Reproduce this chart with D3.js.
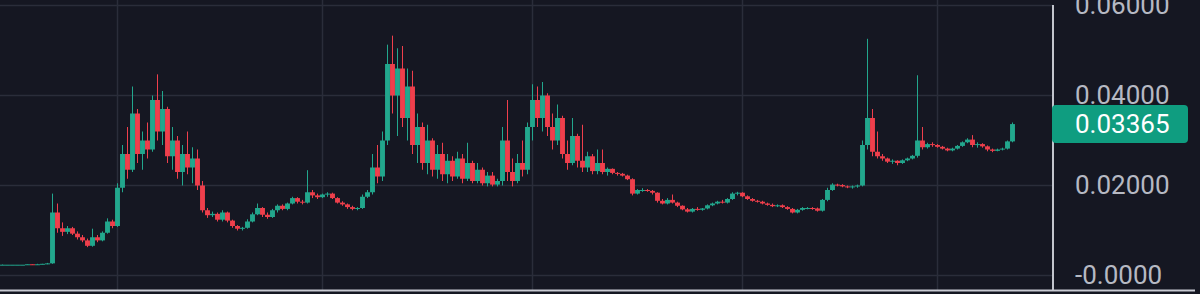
<!DOCTYPE html>
<html>
<head>
<meta charset="utf-8">
<script src="https://cdn.jsdelivr.net/npm/d3@7"></script>
<style>
  html, body { margin: 0; padding: 0; background: #151722; overflow: hidden; }
  svg { display: block; }
  .tick text { font-family: Roboto, "Noto Sans", sans-serif; }
</style>
</head>
<body>
<div id="chart"></div>
<script>
// candle data (one candle ~ 5px)
var opens = [
  .0024,.0024,.0024,.0024,.0024,.0024,.0025,.0024,.0025,.0026,
  .0027,.0140,.0105,.0097,.0105,.0093,.0085,.0078,.0066,.0085,
  .0078,.0095,.0120,.0110,.0195,.0270,.0235,.0360,.0270,.0300,
  .0280,.0390,.0320,.0370,.0265,.0300,.0230,.0270,.0240,.0260,
  .0200,.0145,.0134,.0137,.0124,.0140,.0122,.0110,.0104,.0106,
  .0120,.0136,.0150,.0135,.0130,.0145,.0155,.0148,.0160,.0172,
  .0164,.0162,.0185,.0178,.0174,.0180,.0182,.0172,.0162,.0158,
  .0152,.0148,.0150,.0175,.0185,.0240,.0220,.0300,.0470,.0400,
  .0460,.0350,.0420,.0290,.0330,.0250,.0300,.0235,.0270,.0225,
  .0255,.0220,.0260,.0215,.0250,.0210,.0235,.0205,.0222,.0202,
  .0210,.0300,.0230,.0210,.0250,.0235,.0330,.0390,.0350,.0400,
  .0330,.0300,.0350,.0270,.0250,.0310,.0255,.0240,.0265,.0232,
  .0250,.0230,.0237,.0228,.0226,.0222,.0214,.0182,.0190,.0190,
  .0188,.0184,.0166,.0160,.0168,.0162,.0155,.0147,.0142,.0148,
  .0146,.0149,.0156,.0160,.0164,.0162,.0170,.0182,.0184,.0176,
  .0170,.0166,.0164,.0160,.0157,.0154,.0156,.0152,.0148,.0140,
  .0146,.0150,.0150,.0149,.0144,.0168,.0190,.0202,.0201,.0198,
  .0196,.0198,.0200,.0290,.0350,.0275,.0265,.0260,.0253,.0255,
  .0250,.0256,.0260,.0266,.0300,.0285,.0292,.0290,.0286,.0282,
  .0278,.0282,.0288,.0296,.0302,.0290,.0292,.0287,.0280,.0277,
  .0280,.0282,.0298
];
var highs = [
  .0025,.0024,.0024,.0024,.0024,.0025,.0025,.0026,.0026,.0028,
  .0182,.0160,.0118,.0110,.0108,.0098,.0090,.0082,.0104,.0090,
  .0098,.0127,.0124,.0205,.0290,.0330,.0420,.0370,.0320,.0340,
  .0400,.0447,.0410,.0375,.0330,.0310,.0290,.0320,.0285,.0280,
  .0210,.0150,.0142,.0140,.0145,.0142,.0124,.0112,.0108,.0125,
  .0140,.0160,.0152,.0140,.0148,.0158,.0158,.0162,.0175,.0174,
  .0168,.0234,.0190,.0182,.0182,.0185,.0184,.0174,.0165,.0160,
  .0155,.0152,.0180,.0190,.0270,.0290,.0320,.0513,.0533,.0505,
  .0510,.0460,.0455,.0360,.0340,.0335,.0305,.0290,.0295,.0270,
  .0265,.0275,.0270,.0295,.0255,.0250,.0240,.0230,.0230,.0215,
  .0330,.0390,.0260,.0270,.0300,.0340,.0425,.0420,.0430,.0405,
  .0360,.0380,.0355,.0300,.0350,.0315,.0335,.0275,.0270,.0280,
  .0280,.0240,.0238,.0230,.0228,.0224,.0216,.0192,.0194,.0192,
  .0190,.0185,.0170,.0172,.0180,.0164,.0156,.0150,.0150,.0152,
  .0150,.0158,.0162,.0166,.0168,.0172,.0185,.0186,.0185,.0178,
  .0172,.0168,.0166,.0162,.0160,.0158,.0158,.0154,.0150,.0148,
  .0152,.0152,.0152,.0151,.0170,.0195,.0205,.0204,.0203,.0200,
  .0200,.0202,.0300,.0526,.0370,.0320,.0270,.0262,.0258,.0256,
  .0258,.0262,.0268,.0445,.0330,.0295,.0296,.0292,.0288,.0284,
  .0284,.0290,.0298,.0305,.0312,.0296,.0294,.0289,.0282,.0282,
  .0284,.0300,.0340
];
var lows = [
  .0024,.0024,.0024,.0024,.0024,.0024,.0024,.0024,.0025,.0025,
  .0026,.0095,.0088,.0092,.0090,.0080,.0074,.0063,.0064,.0074,
  .0076,.0093,.0105,.0108,.0185,.0215,.0230,.0250,.0235,.0260,
  .0275,.0300,.0290,.0250,.0235,.0215,.0200,.0225,.0205,.0190,
  .0140,.0128,.0130,.0120,.0120,.0118,.0106,.0100,.0100,.0104,
  .0118,.0134,.0130,.0126,.0128,.0140,.0145,.0145,.0158,.0160,
  .0158,.0160,.0172,.0170,.0172,.0175,.0170,.0160,.0155,.0148,
  .0145,.0145,.0148,.0172,.0180,.0205,.0210,.0290,.0360,.0310,
  .0330,.0300,.0270,.0250,.0235,.0225,.0220,.0215,.0210,.0205,
  .0210,.0215,.0205,.0210,.0205,.0205,.0200,.0198,.0198,.0198,
  .0200,.0210,.0198,.0205,.0220,.0225,.0300,.0330,.0320,.0310,
  .0280,.0290,.0260,.0235,.0245,.0240,.0230,.0230,.0225,.0225,
  .0225,.0222,.0225,.0222,.0220,.0212,.0178,.0180,.0186,.0186,
  .0180,.0162,.0158,.0158,.0160,.0152,.0145,.0140,.0140,.0144,
  .0144,.0147,.0154,.0158,.0160,.0160,.0168,.0178,.0174,.0168,
  .0164,.0162,.0158,.0155,.0152,.0152,.0150,.0146,.0138,.0138,
  .0144,.0147,.0146,.0142,.0142,.0165,.0188,.0198,.0196,.0194,
  .0193,.0195,.0198,.0280,.0265,.0260,.0255,.0250,.0248,.0245,
  .0248,.0254,.0258,.0262,.0280,.0282,.0286,.0284,.0280,.0276,
  .0276,.0280,.0286,.0294,.0285,.0284,.0284,.0276,.0274,.0276,
  .0278,.0280,.0296
];
var closes = [
  .0024,.0024,.0024,.0024,.0024,.0025,.0024,.0025,.0026,.0027,
  .0140,.0105,.0097,.0105,.0093,.0085,.0078,.0066,.0085,.0078,
  .0095,.0120,.0110,.0195,.0270,.0235,.0360,.0270,.0300,.0280,
  .0390,.0320,.0370,.0265,.0300,.0230,.0270,.0240,.0260,.0200,
  .0145,.0134,.0137,.0124,.0140,.0122,.0110,.0104,.0106,.0120,
  .0136,.0150,.0135,.0130,.0145,.0155,.0148,.0160,.0172,.0164,
  .0162,.0185,.0178,.0174,.0180,.0182,.0172,.0162,.0158,.0152,
  .0148,.0150,.0175,.0185,.0240,.0220,.0300,.0470,.0400,.0460,
  .0350,.0420,.0290,.0330,.0250,.0300,.0235,.0270,.0225,.0255,
  .0220,.0260,.0215,.0250,.0210,.0235,.0205,.0222,.0202,.0210,
  .0300,.0230,.0210,.0250,.0235,.0330,.0390,.0350,.0400,.0330,
  .0300,.0350,.0270,.0250,.0310,.0255,.0240,.0265,.0232,.0250,
  .0230,.0237,.0228,.0226,.0222,.0214,.0182,.0190,.0190,.0188,
  .0184,.0166,.0160,.0168,.0162,.0155,.0147,.0142,.0148,.0146,
  .0149,.0156,.0160,.0164,.0162,.0170,.0182,.0184,.0176,.0170,
  .0166,.0164,.0160,.0157,.0154,.0156,.0152,.0148,.0140,.0146,
  .0150,.0150,.0149,.0144,.0168,.0190,.0202,.0201,.0198,.0196,
  .0198,.0200,.0290,.0350,.0275,.0265,.0260,.0253,.0255,.0250,
  .0256,.0260,.0266,.0300,.0285,.0292,.0290,.0286,.0282,.0278,
  .0282,.0288,.0296,.0302,.0290,.0292,.0287,.0280,.0277,.0280,
  .0282,.0298,.03365
];

// price axis ticks + labels
var yTicks = [0, 0.02, 0.04, 0.06];
var yTickLabels = ["-0.0000", "0.02000", "0.04000", "0.06000"];
// candle indexes where the time grid lines sit
var timeGridIdx = [23, 64, 106, 148, 187];

var width = 1200, height = 294;
var plotRight = 1053;
var upColor = "#22a78d", downColor = "#ef3f4c";

var svg = d3.select("#chart").append("svg")
    .attr("width", width)
    .attr("height", height);

svg.append("rect")
    .attr("width", width).attr("height", height)
    .attr("fill", "#151722");

var x = d3.scaleBand()
    .domain(d3.range(closes.length))
    .range([0, closes.length * 5]);

var y = d3.scaleLinear()
    .domain([0, 0.06])
    .range([275.5, 5.5]);

// grid
var grid = svg.append("g").attr("class", "grid");
grid.selectAll("line.h").data(yTicks).enter().append("line")
    .attr("class", "h")
    .attr("x1", 0).attr("x2", plotRight)
    .attr("y1", d => y(d)).attr("y2", d => y(d))
    .attr("stroke", "#2a2d3a").attr("stroke-width", 1.5);
grid.selectAll("line.v").data(timeGridIdx).enter().append("line")
    .attr("class", "v")
    .attr("x1", d => x(d) + x.bandwidth() / 2)
    .attr("x2", d => x(d) + x.bandwidth() / 2)
    .attr("y1", 0).attr("y2", 290)
    .attr("stroke", "#2a2d3a").attr("stroke-width", 1.5);

// candles
var candles = svg.append("g").attr("class", "candles")
    .selectAll("g").data(d3.range(closes.length)).enter().append("g")
    .attr("transform", i => "translate(" + (x(i) + x.bandwidth() / 2) + ",0)");

candles.append("line")
    .attr("y1", i => y(highs[i]))
    .attr("y2", i => y(lows[i]))
    .attr("stroke", i => closes[i] >= opens[i] ? upColor : downColor)
    .attr("stroke-width", 1);

candles.append("rect")
    .attr("x", -2.45)
    .attr("width", 4.9)
    .attr("y", i => y(Math.max(opens[i], closes[i])))
    .attr("height", i => Math.max(1, Math.abs(y(opens[i]) - y(closes[i]))))
    .attr("fill", i => closes[i] >= opens[i] ? upColor : downColor);

// right price axis
var yAxis = svg.append("g")
    .attr("transform", "translate(" + plotRight + ",0)")
    .call(d3.axisRight(y)
      .tickValues(yTicks)
      .tickSize(0)
      .tickPadding(22)
      .tickFormat((d, i) => yTickLabels[i]));
yAxis.select(".domain").remove();
yAxis.selectAll("text")
    .attr("fill", "#b6b9c3")
    .style("font-size", "26px");

svg.append("line")
    .attr("x1", plotRight).attr("x2", plotRight)
    .attr("y1", 5).attr("y2", 291)
    .attr("stroke", "#c2c5cd").attr("stroke-width", 2);

svg.append("line")
    .attr("x1", 0).attr("x2", 1195)
    .attr("y1", 290.5).attr("y2", 290.5)
    .attr("stroke", "#c8cad2").attr("stroke-width", 2);

// last price tag
var last = closes[closes.length - 1];
var tag = svg.append("g");
tag.append("rect")
    .attr("x", plotRight - 1).attr("y", y(last) - 19)
    .attr("width", 136).attr("height", 38)
    .attr("rx", 4)
    .attr("fill", "#0f9d80");
tag.append("text")
    .attr("x", plotRight + 22).attr("y", y(last))
    .attr("dy", "0.35em")
    .attr("fill", "#ffffff")
    .style("font-family", "Roboto, 'Noto Sans', sans-serif")
    .style("font-size", "26px")
    .text(d3.format(".5f")(last));
</script>
</body>
</html>
